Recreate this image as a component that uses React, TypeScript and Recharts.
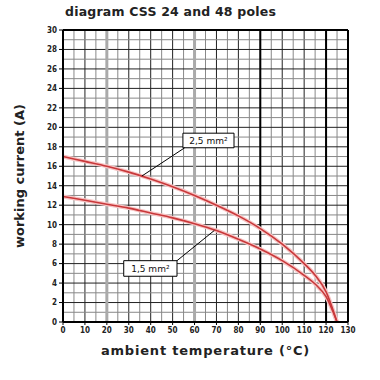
import { LineChart, Line, XAxis, YAxis, CartesianGrid, ReferenceLine, ReferenceArea } from "recharts";

const temps = [0, 10, 20, 30, 40, 50, 60, 70, 80, 90, 100, 110, 115, 120, 125];
const cable25 = [17.0, 16.5, 16.0, 15.4, 14.7, 13.9, 13.0, 12.0, 10.9, 9.6, 8.0, 6.0, 4.8, 3.1, 0];
const cable15 = [12.9, 12.5, 12.1, 11.7, 11.2, 10.7, 10.1, 9.4, 8.5, 7.5, 6.3, 4.8, 3.9, 2.6, 0];

const xTicks = [0, 10, 20, 30, 40, 50, 60, 70, 80, 90, 100, 110, 120, 130];
const yTicks = [0, 2, 4, 6, 8, 10, 12, 14, 16, 18, 20, 22, 24, 26, 28, 30];

const data = temps.map((t, i) => ({ t, a: cable25[i], b: cable15[i] }));

const fives = xTicks.map((v) => v + 5).filter((v) => v < 130);
const odds = yTicks.map((v) => v + 1).filter((v) => v < 30);

const tickStyle = { fontSize: 8, fontWeight: 700, fill: "#222", fontFamily: "DejaVu Sans Condensed" };
const labelFont = "DejaVu Sans";

export default function App() {
  return (
    <div style={{ position: "fixed", left: 0, top: 0, width: 380, height: 380, background: "#fff" }}>
      <div style={{ position: "absolute", left: 65, top: 4, fontFamily: labelFont, fontWeight: 600, fontSize: 12.5, color: "#222", letterSpacing: 0.2 }}>
        diagram CSS 24 and 48 poles
      </div>
      <LineChart width={380} height={380} data={data} margin={{ top: 30, right: 32, left: 0, bottom: 0 }}>
        <CartesianGrid horizontal={false} verticalValues={fives} stroke="#888" strokeWidth={1} />
        <CartesianGrid horizontal={false} verticalValues={xTicks} stroke="#222" strokeWidth={1} />
        <CartesianGrid vertical={false} horizontalValues={odds} stroke="#888" strokeWidth={1} />
        <CartesianGrid vertical={false} horizontalValues={yTicks} stroke="#222" strokeWidth={1} />
        <CartesianGrid horizontal={false} verticalValues={[20, 60]} stroke="#aaa" strokeWidth={3} />
        <CartesianGrid horizontal={false} verticalValues={[90, 120, 130]} stroke="#000" strokeWidth={2} />
        <CartesianGrid vertical={false} horizontalValues={[30]} stroke="#000" strokeWidth={2} />
        <XAxis
          dataKey="t"
          type="number"
          domain={[0, 130]}
          ticks={xTicks}
          interval={0}
          height={58}
          tick={tickStyle}
          tickSize={3}
          axisLine={{ stroke: "#000", strokeWidth: 2 }}
          tickLine={{ stroke: "#000" }}
          label={{ value: "ambient temperature (°C)", position: "insideBottom", offset: 25, style: { fontFamily: labelFont, fontWeight: 700, fontSize: 13, fill: "#222", letterSpacing: 0.8 } }}
        />
        <YAxis
          type="number"
          domain={[0, 30]}
          ticks={yTicks}
          interval={0}
          width={63}
          tick={tickStyle}
          tickSize={4}
          axisLine={{ stroke: "#000", strokeWidth: 2 }}
          tickLine={{ stroke: "#000" }}
          label={{ value: "working current (A)", angle: -90, position: "insideLeft", offset: 19, style: { textAnchor: "middle", fontFamily: labelFont, fontWeight: 700, fontSize: 13, fill: "#222" } }}
        />
        <Line dataKey="a" type="monotone" stroke="#f7c4c4" strokeWidth={4} dot={false} isAnimationActive={false} />
        <Line dataKey="b" type="monotone" stroke="#f7c4c4" strokeWidth={4} dot={false} isAnimationActive={false} />
        <Line dataKey="a" type="monotone" stroke="#c8383a" strokeWidth={1.6} dot={false} isAnimationActive={false} />
        <Line dataKey="b" type="monotone" stroke="#c8383a" strokeWidth={1.6} dot={false} isAnimationActive={false} />
        <ReferenceLine segment={[{ x: 55.5, y: 17.9 }, { x: 36, y: 15.0 }]} stroke="#000" strokeWidth={1} />
        <ReferenceLine segment={[{ x: 52, y: 6.3 }, { x: 69, y: 9.4 }]} stroke="#000" strokeWidth={1} />
        <ReferenceArea x1={54.7} x2={78} y1={17.9} y2={19.4} fill="#fff" fillOpacity={1} stroke="#000" strokeWidth={1}
          label={{ value: "2,5 mm²", position: "center", style: { fontFamily: labelFont, fontSize: 9, fill: "#111" } }} />
        <ReferenceArea x1={27.7} x2={52} y1={4.7} y2={6.3} fill="#fff" fillOpacity={1} stroke="#000" strokeWidth={1}
          label={{ value: "1,5 mm²", position: "center", style: { fontFamily: labelFont, fontSize: 9, fill: "#111" } }} />
      </LineChart>
    </div>
  );
}
